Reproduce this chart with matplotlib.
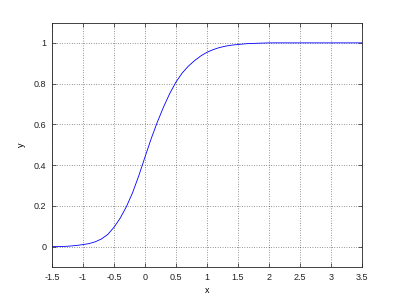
import matplotlib
matplotlib.use("Agg")
import matplotlib.pyplot as plt

x_vals = [-1.5, -1.4, -1.3, -1.2, -1.1, -1.0, -0.9, -0.8, -0.7, -0.6, -0.5,
          -0.4, -0.3, -0.2, -0.1, 0.0, 0.1, 0.2, 0.3, 0.4, 0.5, 0.6, 0.7,
          0.8, 0.9, 1.0, 1.1, 1.2, 1.3, 1.4, 1.5, 1.6, 1.7, 1.8, 1.9, 2.0,
          2.5, 3.0, 3.5]
y_vals = [0.000, 0.000, 0.001, 0.003, 0.006, 0.010, 0.015, 0.024, 0.038,
          0.060, 0.095, 0.140, 0.196, 0.265, 0.348, 0.440, 0.530, 0.612,
          0.686, 0.752, 0.808, 0.852, 0.886, 0.913, 0.936, 0.954, 0.967,
          0.977, 0.984, 0.989, 0.992, 0.995, 0.997, 0.998, 0.999, 1.000,
          1.000, 1.000, 1.000]

x_ticks = [-1.5, -1, -0.5, 0, 0.5, 1, 1.5, 2, 2.5, 3, 3.5]
x_tick_labels = ["-1.5", "-1", "-0.5", "0", "0.5", "1", "1.5", "2", "2.5", "3", "3.5"]
y_ticks = [0, 0.2, 0.4, 0.6, 0.8, 1]
y_tick_labels = ["0", "0.2", "0.4", "0.6", "0.8", "1"]

plt.rcParams['font.family'] = ['Liberation Sans', 'DejaVu Sans']

fig = plt.figure(figsize=(4, 3), dpi=100)
ax = fig.add_axes([0.13, 0.11, 0.775, 0.815])
ax.plot(x_vals, y_vals, color=(0, 0, 1), linewidth=0.6)
ax.set_xlim(-1.5, 3.5)
ax.set_ylim(-0.1, 1.1)
ax.set_xticks(x_ticks)
ax.set_xticklabels(x_tick_labels)
ax.set_yticks(y_ticks)
ax.set_yticklabels(y_tick_labels)
ax.grid(True, linestyle=(0, (1, 2.5)), color='black', linewidth=0.5, alpha=0.8)
ax.tick_params(direction='in', length=3, width=0.5, top=True, right=True,
               labelsize=6.5, pad=4, colors='#222222')
for s in ax.spines.values():
    s.set_linewidth(0.6)
    s.set_color('#222222')
ax.set_xlabel('x', fontsize=6.5, labelpad=3)
ax.set_ylabel('y', fontsize=6.5, labelpad=6)
fig.savefig('out.png', dpi=100)
